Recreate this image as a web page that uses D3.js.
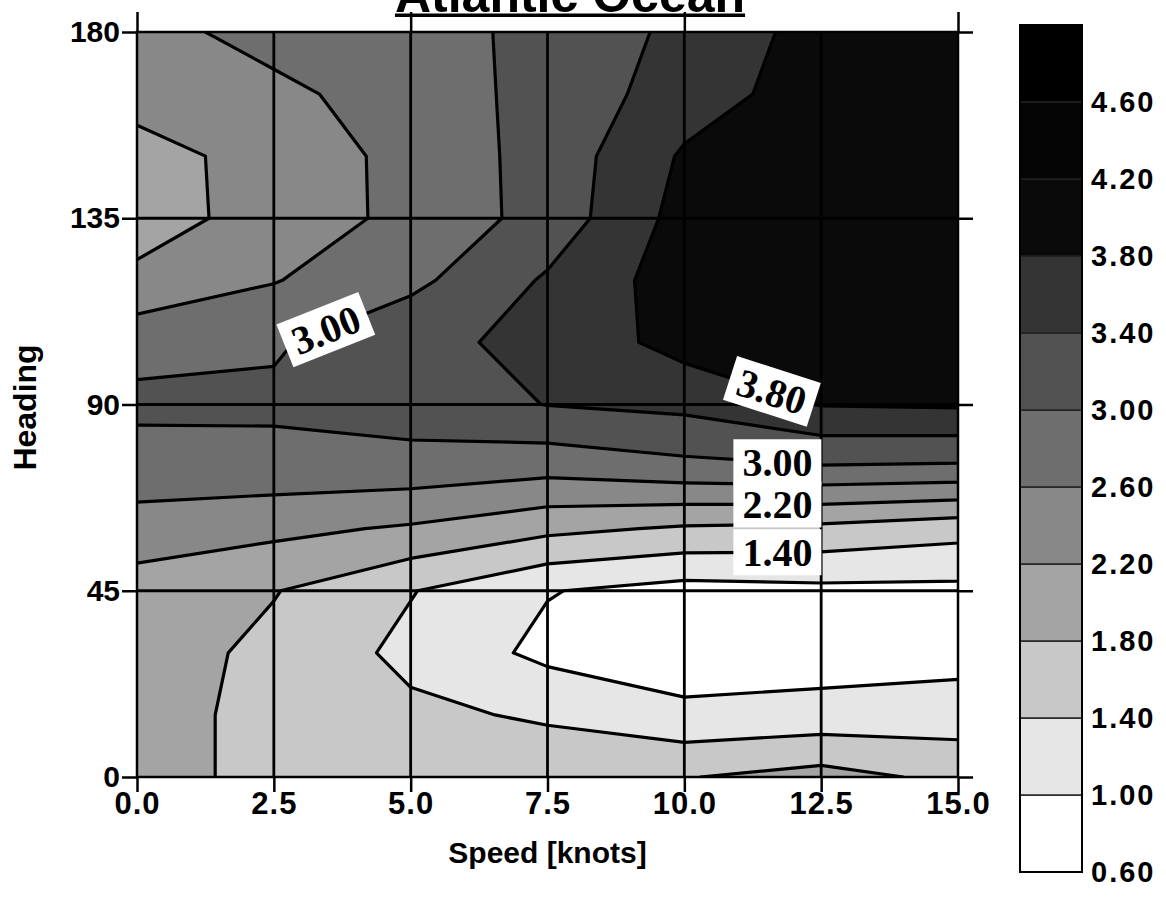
<!DOCTYPE html>
<html>
<head>
<meta charset="utf-8">
<script src="https://cdn.jsdelivr.net/npm/d3@7"></script>
<style>
  body { margin: 0; background: #fff; }
  svg { display: block; font-family: "Liberation Sans", Arial, sans-serif; font-weight: bold; }
</style>
</head>
<body>
<svg id="chart" width="1166" height="905"></svg>
<script>
// grid of the measurements
var speeds = [0, 2.5, 5, 7.5, 10, 12.5, 15];
var headings = [0, 15, 30, 45, 60, 75, 90, 105, 120, 135, 150, 165, 180];

// values, one list per speed, heading 0 -> 180
var spd0_0  = [2.00, 2.00, 2.00, 2.00, 2.45, 2.80, 3.10, 2.85, 2.30, 2.00, 2.05, 2.35, 2.45];
var spd2_5  = [1.65, 1.65, 1.70, 1.82, 2.30, 2.85, 3.08, 2.95, 2.58, 2.38, 2.35, 2.50, 2.75];
var spd5_0  = [1.55, 1.48, 1.30, 1.42, 2.15, 2.85, 3.20, 3.30, 2.90, 2.70, 2.72, 2.80, 2.85];
var spd7_5  = [1.65, 1.35, 0.90, 1.02, 1.90, 2.75, 3.41, 3.50, 3.45, 3.15, 3.15, 3.12, 3.10];
var spd10_0 = [1.78, 1.10, 0.75, 0.85, 1.75, 2.90, 3.50, 3.95, 4.00, 3.95, 3.85, 3.60, 3.50];
var spd12_5 = [1.95, 1.15, 0.80, 0.90, 1.70, 2.98, 3.82, 4.05, 4.10, 4.10, 4.05, 4.00, 3.95];
var spd15_0 = [1.70, 1.20, 0.85, 0.90, 1.55, 2.95, 3.85, 4.05, 4.10, 4.10, 4.10, 4.05, 4.05];

// contour levels / legend classes
var levels = [0.6, 1.0, 1.4, 1.8, 2.2, 2.6, 3.0, 3.4, 3.8, 4.2, 4.6, 5.0];
var shades = ["#ffffff", "#e6e6e6", "#c8c8c8", "#a4a4a4", "#888888", "#6e6e6e",
              "#525252", "#343434", "#0a0a0a", "#050505", "#000000"];

var xTicks = [0, 2.5, 5, 7.5, 10, 12.5, 15];
var xTopTicks = [0, 5, 10, 15];
var yTicks = [0, 45, 90, 135, 180];

// labels put on the contours: level, speed where it sits, heading hint
var contourLabels = [
  {level: 3.0, speed: 3.45, near: 108, turn: true},
  {level: 3.8, speed: 11.6, near: 93, turn: true},
  {level: 3.0, speed: 11.7, near: 77, turn: false},
  {level: 2.2, speed: 11.7, near: 66, turn: false},
  {level: 1.4, speed: 11.7, near: 56, turn: false}
];

var svg = d3.select("#chart");
var x = d3.scaleLinear().domain([0, 15]).range([137, 958]);
var y = d3.scaleLinear().domain([0, 180]).range([777, 32]);

// flatten the columns into the row-major grid d3.contours wants
var columns = [spd0_0, spd2_5, spd5_0, spd7_5, spd10_0, spd12_5, spd15_0];
var nx = speeds.length, ny = headings.length;
var values = [];
for (var j = 0; j < ny; j++) {
  for (var i = 0; i < nx; i++) values.push(columns[i][j]);
}

// contour grid coords -> data coords (value i sits at i + 0.5)
var gs = d3.scaleLinear().domain([0.5, nx - 0.5]).range([speeds[0], speeds[nx - 1]]);
var gh = d3.scaleLinear().domain([0.5, ny - 0.5]).range([headings[0], headings[ny - 1]]);
var path = d3.geoPath(d3.geoTransform({
  point: function(px, py) { this.stream.point(x(gs(px)), y(gh(py))); }
}));

var contours = d3.contours().size([nx, ny]).thresholds(levels.slice(0, -1))(values);

svg.append("clipPath").attr("id", "plotclip")
  .append("rect")
  .attr("x", x(0)).attr("y", y(180))
  .attr("width", x(15) - x(0)).attr("height", y(0) - y(180));

var plot = svg.append("g").attr("clip-path", "url(#plotclip)");

plot.selectAll("path.band")
  .data(contours)
  .enter().append("path")
  .attr("class", "band")
  .attr("d", path)
  .attr("fill", function(d) { return shades[levels.indexOf(d.value)]; })
  .attr("stroke", "none");

// grid lines
plot.selectAll("line.vg")
  .data(xTicks.slice(1, -1))
  .enter().append("line")
  .attr("x1", function(d) { return x(d); }).attr("x2", function(d) { return x(d); })
  .attr("y1", y(180)).attr("y2", y(0))
  .attr("stroke", "#000").attr("stroke-width", 2.8);
plot.selectAll("line.hg")
  .data(yTicks.slice(1, -1))
  .enter().append("line")
  .attr("y1", function(d) { return y(d); }).attr("y2", function(d) { return y(d); })
  .attr("x1", x(0)).attr("x2", x(15))
  .attr("stroke", "#000").attr("stroke-width", 2.8);

// contour lines
plot.selectAll("path.iso")
  .data(contours.filter(function(d) { return d.value > levels[0]; }))
  .enter().append("path")
  .attr("class", "iso")
  .attr("d", path)
  .attr("fill", "none")
  .attr("stroke", "#000")
  .attr("stroke-width", 3.2)
  .attr("stroke-linejoin", "round");

// frame
svg.append("rect")
  .attr("x", x(0)).attr("y", y(180))
  .attr("width", x(15) - x(0)).attr("height", y(0) - y(180))
  .attr("fill", "none").attr("stroke", "#000").attr("stroke-width", 2.5);

// contour labels
function locate(lab) {
  var c = contours.filter(function(d) { return d.value === lab.level; })[0];
  var best = null;
  c.coordinates.forEach(function(poly) {
    poly.forEach(function(ring) {
      for (var k = 1; k < ring.length; k++) {
        var a = [gs(ring[k - 1][0]), gh(ring[k - 1][1])];
        var b = [gs(ring[k][0]), gh(ring[k][1])];
        if (a[0] === b[0] || (a[0] - lab.speed) * (b[0] - lab.speed) > 0) continue;
        var t = (lab.speed - a[0]) / (b[0] - a[0]);
        var h = a[1] + t * (b[1] - a[1]);
        if (h < 0 || h > 180) continue;
        if (!best || Math.abs(h - lab.near) < Math.abs(best.h - lab.near)) best = {h: h, a: a, b: b};
      }
    });
  });
  var ang = Math.atan2(y(best.b[1]) - y(best.a[1]), x(best.b[0]) - x(best.a[0])) * 180 / Math.PI;
  if (ang > 90) ang -= 180;
  if (ang < -90) ang += 180;
  return {h: best.h, angle: lab.turn ? ang : 0};
}

contourLabels.forEach(function(lab) {
  var at = locate(lab);
  var g = svg.append("g")
    .attr("transform", "translate(" + x(lab.speed) + "," + y(at.h) + ") rotate(" + at.angle + ")");
  g.append("rect")
    .attr("x", -44).attr("y", -23).attr("width", 88).attr("height", 46)
    .attr("fill", "#fff");
  g.append("text")
    .attr("text-anchor", "middle")
    .attr("dy", "0.35em")
    .style("font-family", "'Liberation Serif', 'Times New Roman', serif")
    .style("font-size", "40px")
    .style("font-weight", "bold")
    .text(d3.format(".2f")(lab.level));
});

// axes
function styleAxis(g) {
  g.select(".domain").remove();
  g.selectAll(".tick line").attr("stroke", "#000").attr("stroke-width", 2.5);
  g.selectAll("text").attr("fill", "#000")
    .style("font-family", "'Liberation Sans', Arial, sans-serif")
    .style("font-weight", "bold");
}

svg.append("g")
  .attr("transform", "translate(" + x(0) + ",0)")
  .call(d3.axisLeft(y).tickValues(yTicks).tickSize(15).tickPadding(2).tickFormat(d3.format("d")))
  .call(styleAxis)
  .selectAll("text").style("font-size", "30px");

svg.append("g")
  .attr("transform", "translate(0," + y(0) + ")")
  .call(d3.axisBottom(x).tickValues(xTicks).tickSize(15).tickPadding(0).tickFormat(d3.format(".1f")))
  .call(styleAxis)
  .selectAll("text").style("font-size", "31px").style("letter-spacing", "1px");

svg.append("g")
  .attr("transform", "translate(0," + y(180) + ")")
  .call(d3.axisTop(x).tickValues(xTopTicks).tickSize(20).tickFormat(""))
  .call(styleAxis);

svg.append("g")
  .attr("transform", "translate(" + x(15) + ",0)")
  .call(d3.axisRight(y).tickValues(yTicks).tickSize(15).tickFormat(""))
  .call(styleAxis);

// axis titles
svg.append("text")
  .attr("x", (x(0) + x(15)) / 2).attr("y", 863)
  .attr("text-anchor", "middle")
  .style("font-size", "30px")
  .text("Speed [knots]");

svg.append("text")
  .attr("transform", "translate(36," + (y(90) + 3) + ") rotate(-90)")
  .attr("text-anchor", "middle")
  .style("font-size", "32px")
  .text("Heading");

// title, mostly above the top of the page as in the source
var title = svg.append("text")
  .attr("x", 570).attr("y", 12)
  .attr("text-anchor", "middle")
  .style("font-size", "50px")
  .text("Atlantic Ocean");
var tw = title.node().getComputedTextLength();
svg.append("rect")
  .attr("x", 570 - tw / 2).attr("y", 13.5)
  .attr("width", tw).attr("height", 3.5)
  .attr("fill", "#000");

// colour bar
var cb = d3.scaleLinear().domain([levels[0], levels[levels.length - 1]]).range([872, 25]);
var bar = svg.append("g");
bar.selectAll("rect")
  .data(shades)
  .enter().append("rect")
  .attr("x", 1020).attr("width", 62)
  .attr("y", function(d, k) { return cb(levels[k + 1]); })
  .attr("height", function(d, k) { return cb(levels[k]) - cb(levels[k + 1]); })
  .attr("fill", function(d) { return d; })
  .attr("stroke", "#222").attr("stroke-width", 1.5);
bar.append("rect")
  .attr("x", 1020).attr("y", cb(levels[levels.length - 1]))
  .attr("width", 62).attr("height", cb(levels[0]) - cb(levels[levels.length - 1]))
  .attr("fill", "none").attr("stroke", "#000").attr("stroke-width", 2);
bar.selectAll("text")
  .data(levels.slice(0, -1))
  .enter().append("text")
  .attr("x", 1091)
  .attr("y", function(d) { return cb(d); })
  .attr("dy", "0.36em")
  .style("font-size", "29px")
  .style("letter-spacing", "2px")
  .text(d3.format(".2f"));
</script>
</body>
</html>
